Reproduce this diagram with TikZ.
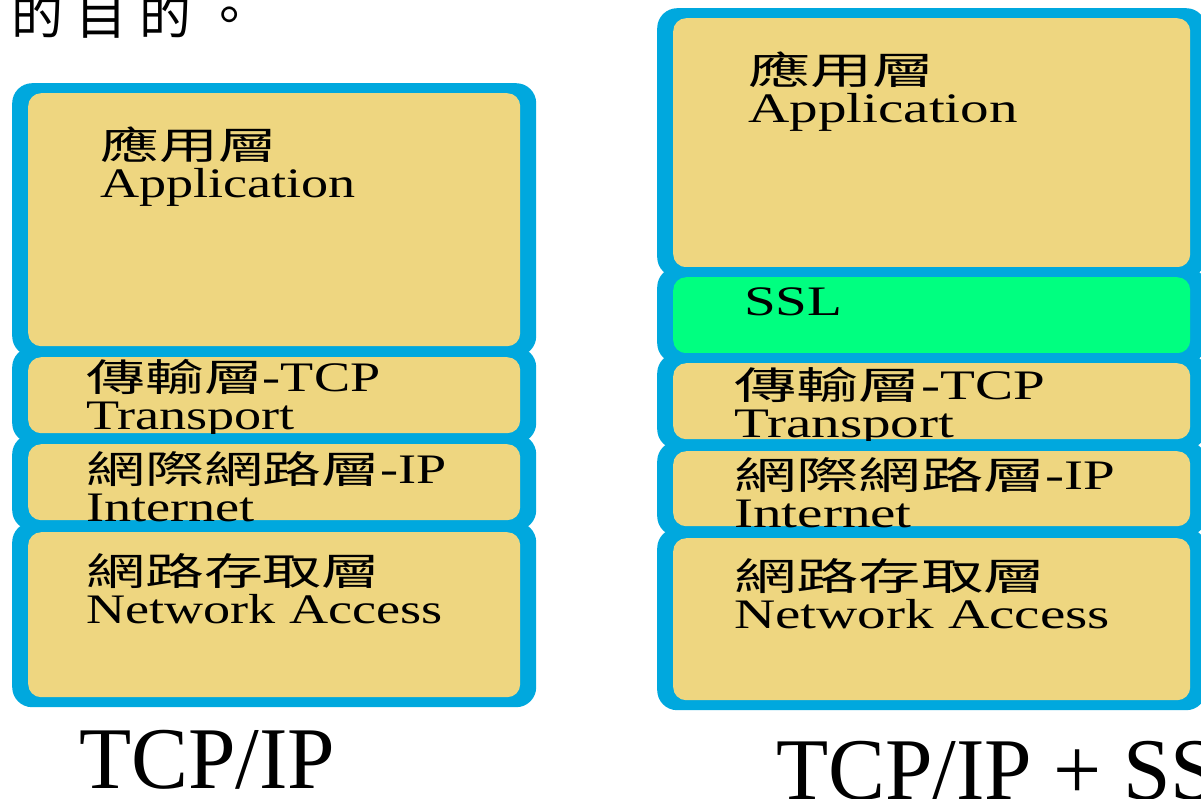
\documentclass[tikz,border=0pt]{standalone}
\usepackage{fontspec}
\setmainfont{Liberation Serif}
\newfontfamily\zhL[FakeStretch=1.55]{Noto Sans CJK TC}
\newfontfamily\zhR[FakeStretch=1.64]{Noto Sans CJK TC}
\newfontfamily\enL[FakeStretch=1.29]{Liberation Serif}
\newfontfamily\enR[FakeStretch=1.36]{Liberation Serif}
\newfontfamily\zhtop{Noto Sans CJK TC}
\newfontfamily\capfont[FakeStretch=0.97]{Liberation Serif}
\newcommand\zl{\zhL\fontsize{38}{38}\selectfont}
\newcommand\el{\enL\fontsize{42}{38}\selectfont}
\newcommand\zr{\zhR\fontsize{38}{38}\selectfont}
\newcommand\er{\enR\fontsize{42}{38}\selectfont}
\definecolor{stackblue}{RGB}{0,168,222}
\definecolor{layerfill}{RGB}{238,214,128}
\definecolor{sslgreen}{RGB}{0,255,128}

\begin{document}
\begin{tikzpicture}[x=1pt, y=-1pt,
  layer/.style={rectangle, rounded corners=20pt, fill=stackblue, inner sep=0pt,
    anchor=north west, path picture={\fill[#1, rounded corners=13pt]
      ([shift={(16pt,-10pt)}]path picture bounding box.north west) rectangle
      ([shift={(-16pt,10pt)}]path picture bounding box.south east);}},
  layer/.default=layerfill,
  lbl/.style={anchor=base west, inner sep=0pt, align=left,
    font=\fontsize{38}{38}\selectfont},
  caption/.style={anchor=base west, inner sep=0pt,
    font=\capfont\fontsize{88}{88}\selectfont}]
  \useasboundingbox (0,0) rectangle (1201,798);
  \clip (0,0) rectangle (1201,798);
  % end of the sentence above, cut by the top edge
  \node[anchor=base west, inner sep=0pt, font=\zhtop\fontsize{52}{52}\selectfont]
    (tail) at (11,34) {的\hspace{12pt}目\hspace{12pt}的\hspace{12pt}。};

  % TCP/IP stack (labels placed at the baseline of their last line)
  \node[layer, minimum width=524pt, minimum height=273pt] (lapp) at (12,83) {};
  \node[lbl] (lapptxt) at (100,197) {{\zl 應用層}\\{\el Application}};
  \node[layer, minimum width=524pt, minimum height=96pt] (ltcp) at (12,347) {};
  \node[lbl] (ltcptxt) at (86,429) {{\zl 傳輸層}{\el -TCP}\\{\el Transport}};
  \node[layer, minimum width=524pt, minimum height=96pt] (lip) at (12,434) {};
  \node[lbl] (liptxt) at (86,521) {{\zl 網際網路層}{\el -IP}\\{\el Internet}};
  \node[layer, minimum width=524pt, minimum height=185pt] (lnet) at (12,522) {};
  \node[lbl] (lnettxt) at (86,623) {{\zl 網路存取層}\\{\el Network Access}};
  \node[caption] (lcap) at (79,788) {TCP/IP};

  % TCP/IP + SSL stack, runs past the right edge
  \node[layer, minimum width=549pt, minimum height=269pt] (rapp) at (657,8) {};
  \node[lbl] (rapptxt) at (748,122) {{\zr 應用層}\\{\er Application}};
  \node[layer=sslgreen, minimum width=549pt, minimum height=96pt] (rssl) at (657,267) {};
  \node[lbl] (rssltxt) at (744,315) {\er SSL};
  \node[layer, minimum width=549pt, minimum height=96pt] (rtcp) at (657,353) {};
  \node[lbl] (rtcptxt) at (734,437) {{\zr 傳輸層}{\er -TCP}\\{\er Transport}};
  \node[layer, minimum width=549pt, minimum height=95pt] (rip) at (657,441) {};
  \node[lbl] (riptxt) at (734,527) {{\zr 網際網路層}{\er -IP}\\{\er Internet}};
  \node[layer, minimum width=549pt, minimum height=182pt] (rnet) at (657,528) {};
  \node[lbl] (rnettxt) at (734,628) {{\zr 網路存取層}\\{\er Network Access}};
  \node[caption] (rcap) at (776,799) {TCP/IP + SS};
\end{tikzpicture}
\end{document}
